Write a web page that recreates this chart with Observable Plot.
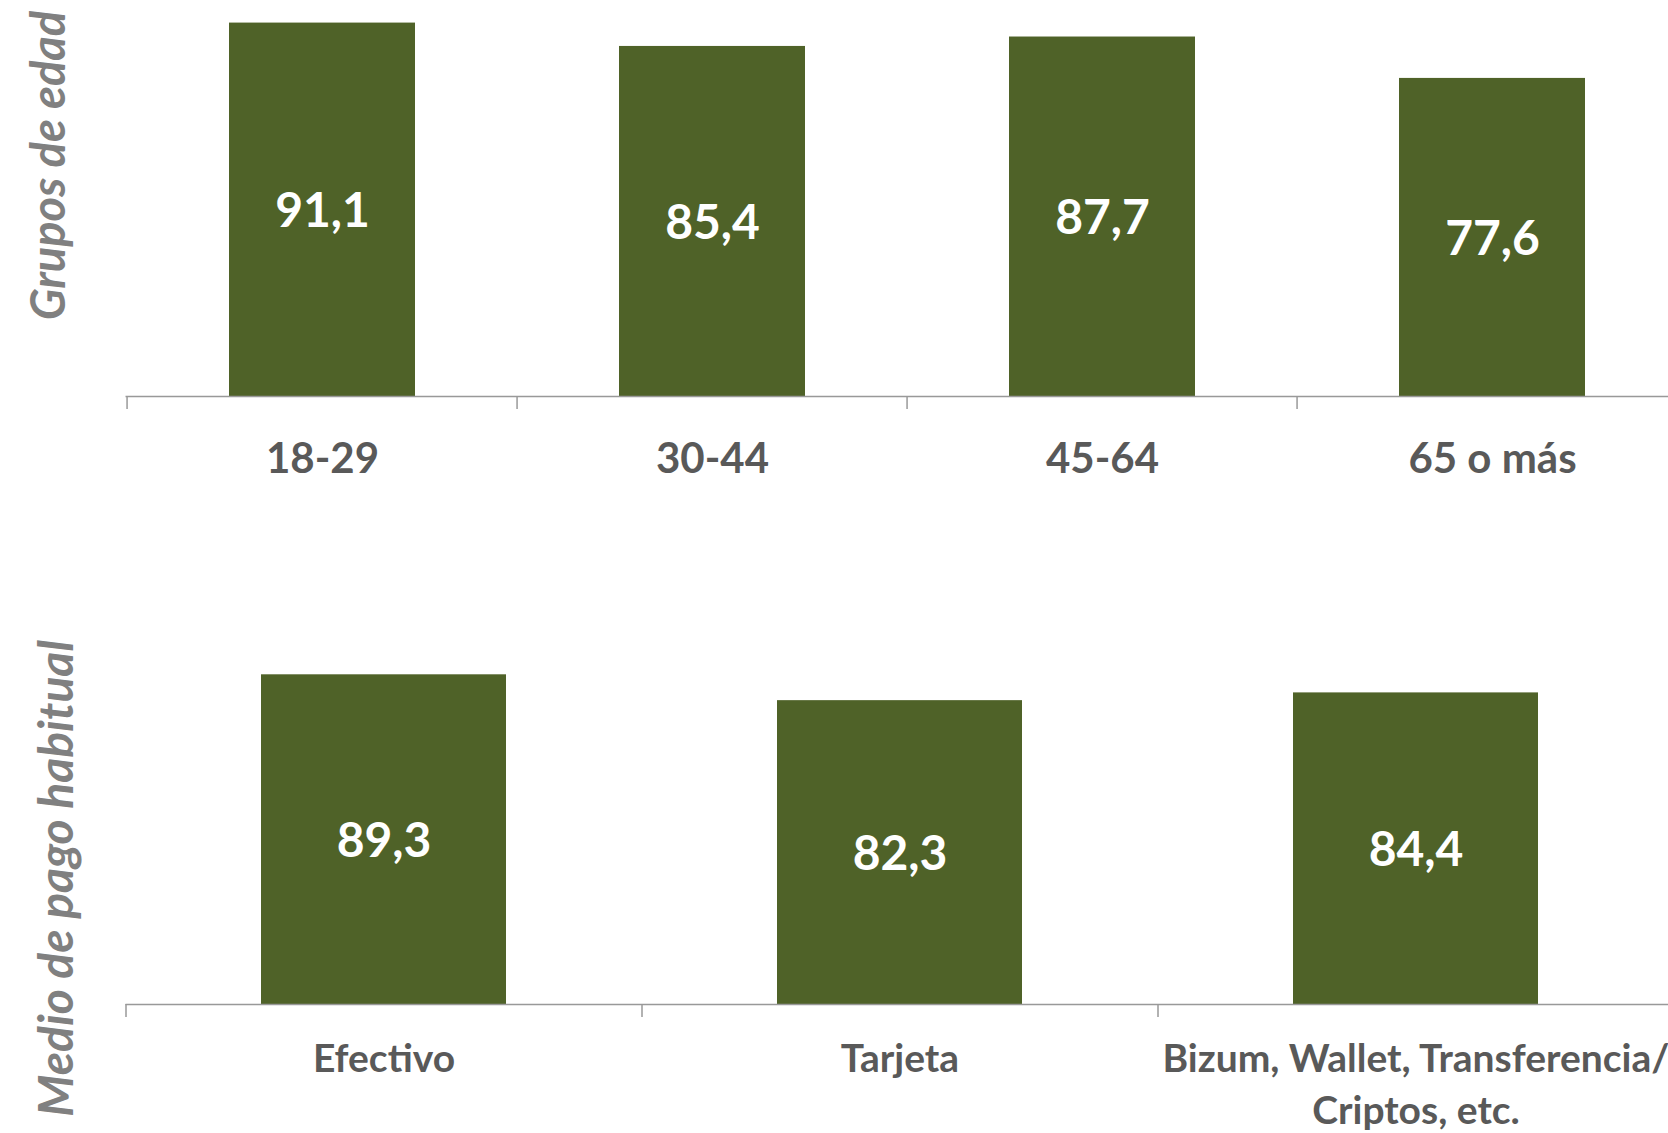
<!DOCTYPE html>
<html><head><meta charset="utf-8">
<script src="https://cdn.jsdelivr.net/npm/d3@7"></script>
<script src="https://cdn.jsdelivr.net/npm/@observablehq/plot@0.6"></script>
<style>
html,body{margin:0;padding:0;background:#fff;overflow:hidden;width:1668px;height:1133px}
#top,#bottom{position:absolute;left:0}
#top{top:0}
#bottom{top:560px}
</style></head><body>
<div id="top"></div><div id="bottom"></div>
<script>
const ageGroups = ["18-29", "30-44", "45-64", "65 o más"];
const ageValues = [91.1, 85.4, 87.7, 77.6];
const paymentMethods = ["Efectivo", "Tarjeta", "Bizum, Wallet, Transferencia/\nCriptos, etc."];
const paymentValues = [89.3, 82.3, 84.4];
const titleAge = "Grupos de edad";
const titlePayment = "Medio de pago habitual";

const fmt = v => v.toFixed(1).replace(".", ",");

function makeChart(cats, vals, o) {
  const data = cats.map((c, i) => ({cat: c, v: vals[i]}));
  const step = (o.xRange[1] - o.xRange[0]) / cats.length;
  return Plot.plot({
    width: 1668, height: o.height,
    marginLeft: o.xRange[0], marginRight: 0, marginTop: 0, marginBottom: o.height - o.baseline,
    style: {fontFamily: "Lato, 'Open Sans', sans-serif", background: "white", overflow: "hidden"},
    x: {type: "band", domain: cats, range: o.xRange, paddingInner: o.pad, paddingOuter: o.pad / 2, align: 0.5, label: null},
    y: {domain: [0, 100], range: [o.baseline, o.yTop], axis: null},
    marks: [
      Plot.barY(data, {x: "cat", y: "v", fill: "#4f6228"}),
      Plot.ruleY([0], {stroke: "#999", strokeWidth: 1.5}),
      Plot.axisX({tickSize: 13, dx: -step / 2, fill: "none", stroke: "#999", strokeWidth: 1.5, label: null}),
      Plot.text(data, {x: "cat", y: d => d.v / 2, text: d => fmt(d.v), dy: 2, fill: "white", fontSize: 48, fontWeight: "bold"}),
      Plot.text(data, {x: "cat", text: "cat", frameAnchor: "bottom", lineAnchor: o.labelAnchor, dy: o.labelDy,
        fill: "#595959", fontSize: o.labelSize, fontWeight: "bold", lineHeight: o.lineHeight}),
      Plot.text([o.title], {frameAnchor: "top-left", textAnchor: "middle", lineAnchor: "middle", rotate: -90,
        dx: o.titleX - o.xRange[0], dy: o.titleY,
        fill: "#808080", fontSize: o.titleSize, fontWeight: "bold", fontStyle: "italic"})
    ]
  });
}

document.getElementById("top").append(makeChart(ageGroups, ageValues, {
  height: 560, baseline: 396, yTop: -13.9, xRange: [125.5, 1689], pad: 0.524,
  labelAnchor: "middle", labelDy: 60, labelSize: 42, lineHeight: 1.2,
  title: titleAge, titleX: 49, titleY: 165, titleSize: 47
}));
document.getElementById("bottom").append(makeChart(paymentMethods, paymentValues, {
  height: 573, baseline: 444, yTop: 74.8, xRange: [125.5, 1673.5], pad: 0.526,
  labelAnchor: "top", labelDy: 31, labelSize: 39, lineHeight: 1.33,
  title: titlePayment, titleX: 57, titleY: 318, titleSize: 48
}));
</script>
</body></html>
